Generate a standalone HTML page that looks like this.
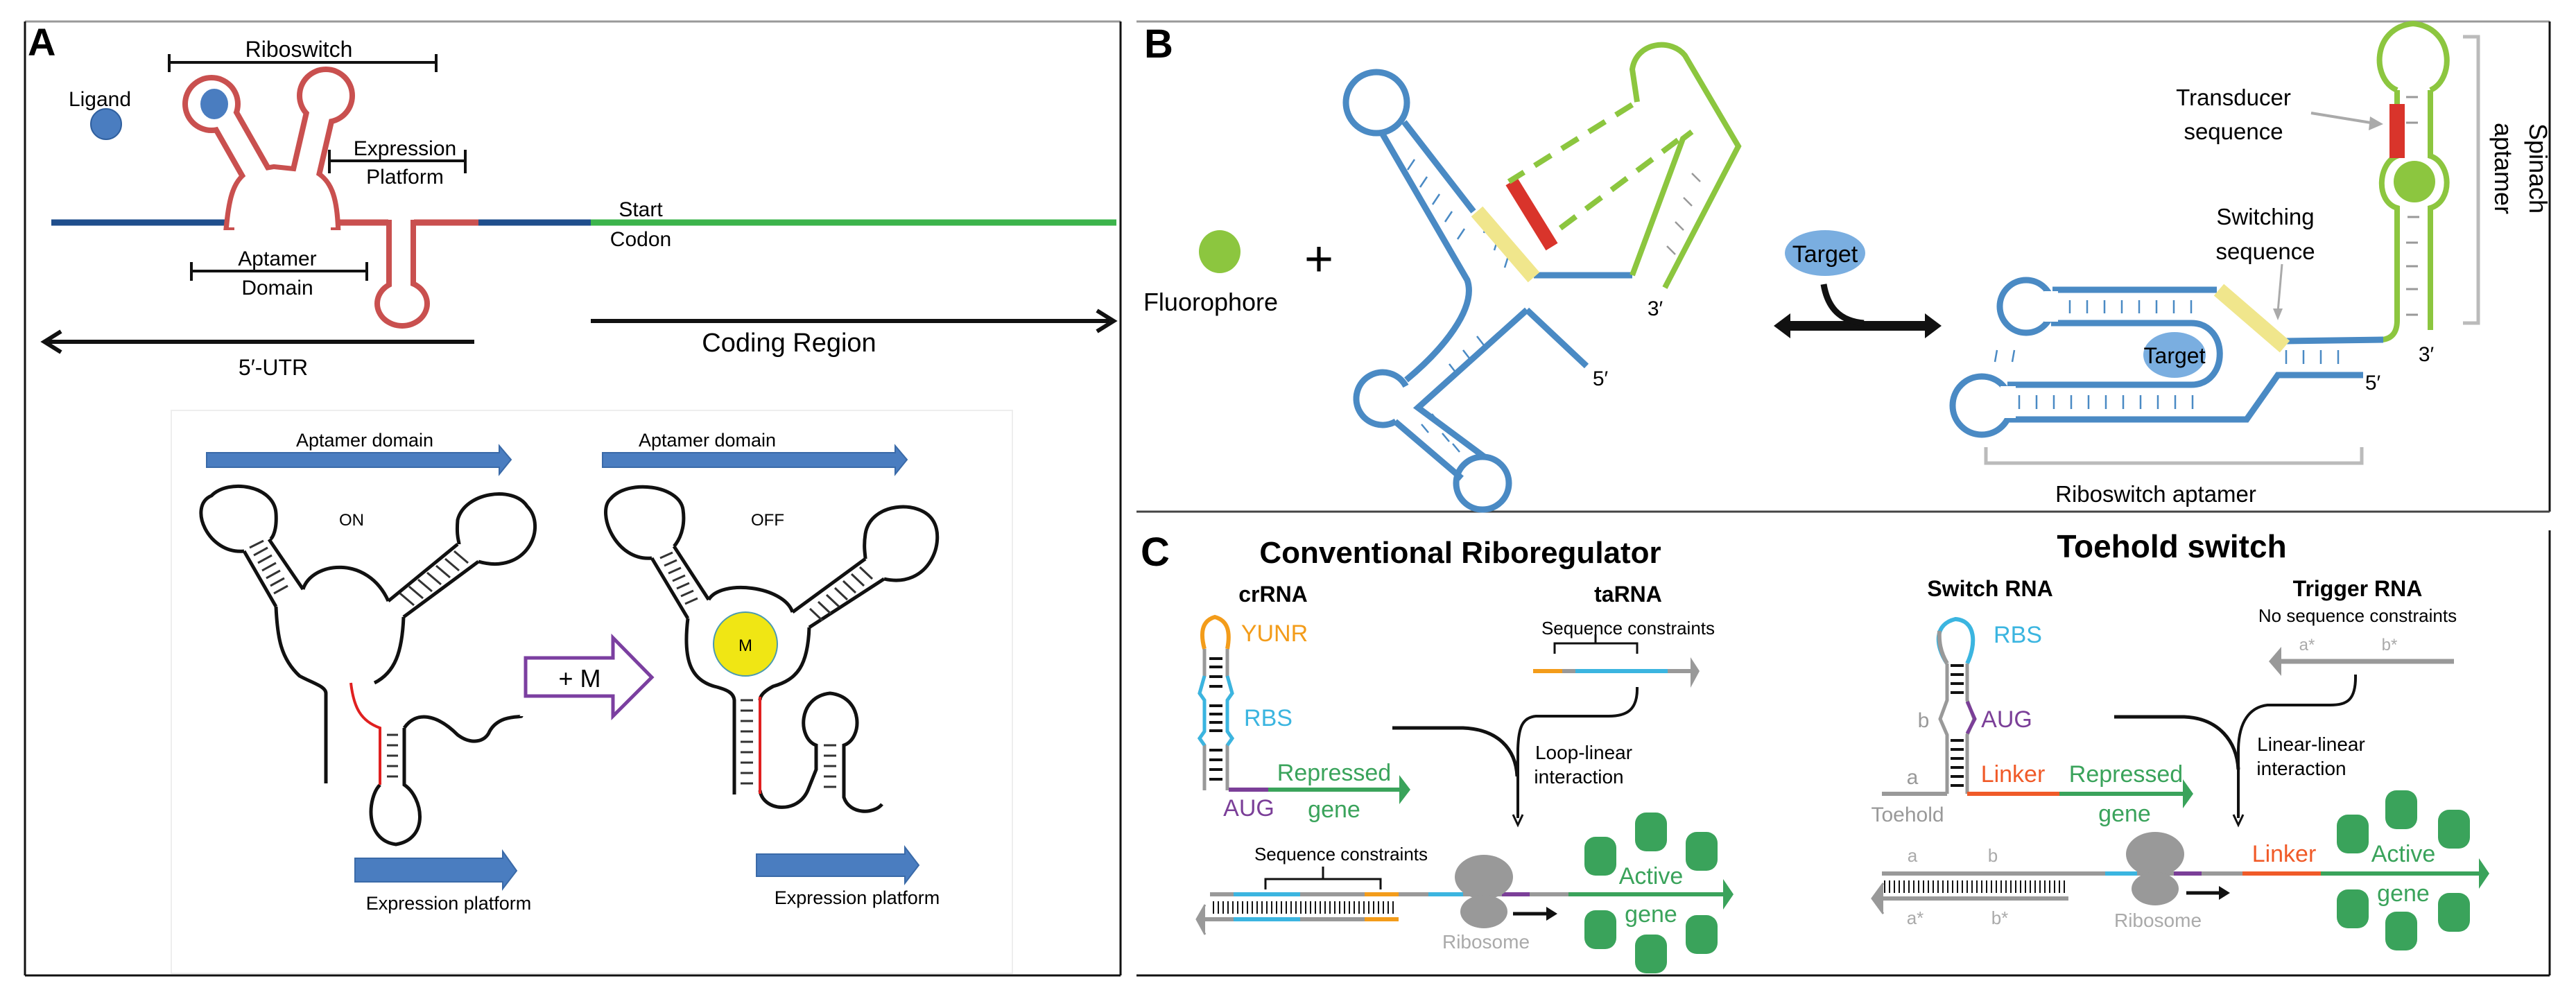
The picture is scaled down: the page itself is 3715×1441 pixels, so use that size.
<!DOCTYPE html>
<html><head><meta charset="utf-8"><style>
html,body{margin:0;padding:0;background:#fff;}
svg{display:block;}
.n{font-family:"Liberation Sans Narrow","Liberation Sans",sans-serif;}
</style></head><body>
<svg width="3715" height="1441" viewBox="0 0 3715 1441" xmlns="http://www.w3.org/2000/svg" class="n">
<!-- Panel borders -->
<line x1="36" y1="31" x2="1616" y2="31" stroke="#999" stroke-width="3"/>
<line x1="36" y1="31" x2="36" y2="1407" stroke="#111" stroke-width="3"/>
<line x1="1616" y1="31" x2="1616" y2="1407" stroke="#111" stroke-width="3"/>
<line x1="36" y1="1407" x2="1616" y2="1407" stroke="#111" stroke-width="3"/>
<line x1="1639" y1="31" x2="3677" y2="31" stroke="#999" stroke-width="3"/>
<line x1="3677" y1="31" x2="3677" y2="738" stroke="#111" stroke-width="3"/>
<line x1="3677" y1="765" x2="3677" y2="1407" stroke="#111" stroke-width="3"/>
<line x1="1639" y1="738" x2="3677" y2="738" stroke="#444" stroke-width="3"/>
<line x1="1639" y1="1407" x2="3677" y2="1407" stroke="#111" stroke-width="3"/>

<!-- ============ PANEL A ============ -->
<text x="40" y="80" font-family="Liberation Sans" font-weight="bold" font-size="56">A</text>
<text x="431" y="82" text-anchor="middle" font-size="32">Riboswitch</text>
<line x1="244" y1="90" x2="629" y2="90" stroke="#111" stroke-width="4"/>
<line x1="244" y1="78" x2="244" y2="104" stroke="#111" stroke-width="4"/>
<line x1="629" y1="78" x2="629" y2="104" stroke="#111" stroke-width="4"/>
<text x="144" y="153" text-anchor="middle" font-size="30">Ligand</text>
<ellipse cx="153" cy="179" rx="22" ry="22" fill="#4a7dc0" stroke="#2f5f9e" stroke-width="2"/>

<line x1="74" y1="321" x2="330" y2="321" stroke="#1f4e8c" stroke-width="9"/>
<line x1="690" y1="321" x2="852" y2="321" stroke="#1f4e8c" stroke-width="9"/>
<line x1="852" y1="321" x2="1610" y2="321" stroke="#3cb44b" stroke-width="9"/>
<line x1="484" y1="321" x2="560" y2="321" stroke="#c9504f" stroke-width="9"/>
<line x1="597" y1="321" x2="690" y2="321" stroke="#c9504f" stroke-width="9"/>
<g stroke="#c9504f" fill="#c9504f">
<line x1="372" y1="255" x2="318" y2="160" stroke-width="46"/>
<line x1="440" y1="255" x2="462" y2="160" stroke-width="46"/>
<circle cx="305" cy="150" r="42" stroke="none"/>
<circle cx="470" cy="138" r="42" stroke="none"/>
<path d="M330,325 C334,285 340,262 360,250 L395,244 L452,250 C475,262 482,285 484,325 Z" stroke-width="14"/>
<rect x="557" y="317" width="43" height="100" stroke="none"/>
<ellipse cx="580" cy="438" rx="40" ry="36" stroke="none"/>
</g>
<g fill="#fff" stroke="#fff">
<line x1="372" y1="255" x2="318" y2="160" stroke-width="30"/>
<line x1="440" y1="255" x2="462" y2="160" stroke-width="30"/>
<circle cx="305" cy="150" r="34" stroke="none"/>
<circle cx="470" cy="138" r="34" stroke="none"/>
<path d="M330,328 C334,285 340,262 360,250 L395,244 L452,250 C475,262 482,285 484,328 Z" stroke="none"/>
<rect x="338" y="316" width="139" height="20" stroke="none"/>
<rect x="565" y="312" width="27" height="110" stroke="none"/>
<ellipse cx="580" cy="438" rx="32" ry="28" stroke="none"/>
</g>
<ellipse cx="309" cy="150" rx="20" ry="22" fill="#4a7dc0"/>
<text x="584" y="224" text-anchor="middle" font-size="30">Expression</text>
<text x="584" y="265" text-anchor="middle" font-size="30">Platform</text>
<line x1="475" y1="232" x2="671" y2="232" stroke="#111" stroke-width="4"/>
<line x1="475" y1="216" x2="475" y2="250" stroke="#111" stroke-width="4"/>
<line x1="671" y1="216" x2="671" y2="250" stroke="#111" stroke-width="4"/>
<text x="400" y="383" text-anchor="middle" font-size="30">Aptamer</text>
<text x="400" y="425" text-anchor="middle" font-size="30">Domain</text>
<line x1="276" y1="391" x2="529" y2="391" stroke="#111" stroke-width="4"/>
<line x1="276" y1="378" x2="276" y2="405" stroke="#111" stroke-width="4"/>
<line x1="529" y1="378" x2="529" y2="405" stroke="#111" stroke-width="4"/>
<text x="924" y="312" text-anchor="middle" font-size="30">Start</text>
<text x="924" y="355" text-anchor="middle" font-size="30">Codon</text>
<line x1="70" y1="493" x2="684" y2="493" stroke="#111" stroke-width="6"/>
<path d="M88,478 L64,493 L88,508" fill="none" stroke="#111" stroke-width="6"/>
<text x="394" y="541" text-anchor="middle" font-size="32">5′-UTR</text>
<line x1="852" y1="463" x2="1600" y2="463" stroke="#111" stroke-width="6"/>
<path d="M1582,448 L1606,463 L1582,478" fill="none" stroke="#111" stroke-width="6"/>
<text x="1138" y="507" text-anchor="middle" font-size="38">Coding Region</text>

<rect x="247" y="592" width="1213" height="812" fill="none" stroke="#eeeeee" stroke-width="2"/>
<text x="526" y="644" text-anchor="middle" font-size="27">Aptamer domain</text>
<path d="M298,653 L720,653 L720,643 L737,663 L720,684 L720,674 L298,674 Z" fill="#4a7dc0" stroke="#3a6aa8" stroke-width="2"/>
<text x="1020" y="644" text-anchor="middle" font-size="27">Aptamer domain</text>
<path d="M869,653 L1291,653 L1291,643 L1308,663 L1291,684 L1291,674 L869,674 Z" fill="#4a7dc0" stroke="#3a6aa8" stroke-width="2"/>

<g fill="none" stroke="#111" stroke-width="5">
<path d="M352,795 C300,800 270,730 305,715 C330,690 395,700 398,740 C400,770 390,780 388,778"/>
<path d="M690,810 C760,830 790,760 760,730 C740,700 670,710 660,750 C658,775 662,780 662,785"/>
<line x1="352" y1="795" x2="398" y2="875"/>
<line x1="388" y1="778" x2="437" y2="850"/>
<path d="M437,850 C450,810 530,800 560,867"/>
<line x1="660" y1="785" x2="560" y2="867"/>
<line x1="690" y1="810" x2="582" y2="890"/>
<path d="M398,875 C400,920 405,950 432,975 C450,985 470,990 470,1000 L470,1130"/>
<path d="M582,890 C580,940 570,970 540,985"/>
<path d="M583,1050 L583,1132 C610,1150 620,1210 571,1218 C525,1212 530,1150 548,1132"/>
<path d="M583,1050 C600,1025 630,1030 660,1060 C680,1075 700,1070 706,1055 C720,1030 752,1035 752,1033"/>
</g>
<path d="M506,985 C510,1020 520,1040 548,1050 L548,1132" fill="none" stroke="#e02020" stroke-width="4"/>
<g stroke="#333" stroke-width="3">
<line x1="360" y1="790" x2="380" y2="780"/><line x1="366" y1="801" x2="386" y2="790"/><line x1="372" y1="812" x2="392" y2="801"/><line x1="378" y1="823" x2="398" y2="812"/><line x1="384" y1="834" x2="404" y2="823"/><line x1="390" y1="845" x2="410" y2="834"/><line x1="395" y1="856" x2="415" y2="845"/>
<line x1="655" y1="795" x2="675" y2="812"/><line x1="642" y1="806" x2="662" y2="823"/><line x1="629" y1="816" x2="649" y2="833"/><line x1="616" y1="826" x2="636" y2="843"/><line x1="603" y1="836" x2="623" y2="853"/><line x1="590" y1="846" x2="610" y2="863"/><line x1="577" y1="856" x2="597" y2="873"/>
<line x1="558" y1="1060" x2="574" y2="1060"/><line x1="558" y1="1075" x2="574" y2="1075"/><line x1="558" y1="1090" x2="574" y2="1090"/><line x1="558" y1="1105" x2="574" y2="1105"/><line x1="558" y1="1120" x2="574" y2="1120"/>
</g>
<text x="507" y="758" text-anchor="middle" font-size="24">ON</text>
<path d="M512,1238 L725,1238 L725,1228 L745,1256 L725,1282 L725,1272 L512,1272 Z" fill="#4a7dc0" stroke="#3a6aa8" stroke-width="2"/>
<text x="647" y="1312" text-anchor="middle" font-size="27">Expression platform</text>

<path d="M758,949 L884,949 L884,920 L940,977 L884,1033 L884,1004 L758,1004 Z" fill="#fff" stroke="#7b3fa0" stroke-width="5"/>
<text x="836" y="991" text-anchor="middle" font-size="36">+ M</text>

<g fill="none" stroke="#111" stroke-width="5">
<path d="M940,805 C888,810 860,740 880,720 C905,690 980,700 985,735 C990,770 972,788 972,788"/>
<path d="M1275,835 C1340,850 1365,780 1345,750 C1325,720 1255,725 1248,770 C1245,790 1248,800 1248,806"/>
<line x1="940" y1="805" x2="992" y2="892"/>
<line x1="972" y1="788" x2="1022" y2="865"/>
<path d="M1022,865 C1040,835 1130,845 1143,883"/>
<line x1="1248" y1="806" x2="1143" y2="883"/>
<line x1="1275" y1="835" x2="1167" y2="905"/>
<path d="M992,892 C985,950 995,980 1030,990 C1050,995 1058,1000 1059,1010 L1059,1146"/>
<path d="M1167,905 C1165,960 1150,980 1115,990 C1100,998 1096,1005 1096,1010"/>
<path d="M1096,1140 C1100,1170 1150,1175 1165,1140 L1177,1110 L1177,1075 C1150,1065 1150,1005 1197,1000 C1245,1005 1245,1065 1217,1075 L1217,1150 C1225,1175 1260,1175 1272,1160"/>
</g>
<line x1="1096" y1="1005" x2="1096" y2="1145" stroke="#e02020" stroke-width="4"/>
<g stroke="#333" stroke-width="3">
<line x1="952" y1="805" x2="970" y2="797"/><line x1="958" y1="816" x2="976" y2="808"/><line x1="964" y1="827" x2="982" y2="819"/><line x1="970" y1="838" x2="988" y2="830"/><line x1="976" y1="849" x2="994" y2="841"/><line x1="982" y1="860" x2="1000" y2="852"/><line x1="988" y1="871" x2="1006" y2="863"/>
<line x1="1240" y1="818" x2="1258" y2="835"/><line x1="1228" y1="828" x2="1246" y2="845"/><line x1="1216" y1="838" x2="1234" y2="855"/><line x1="1204" y1="848" x2="1222" y2="865"/><line x1="1192" y1="858" x2="1210" y2="875"/><line x1="1180" y1="868" x2="1198" y2="885"/><line x1="1168" y1="878" x2="1186" y2="895"/>
<line x1="1068" y1="1010" x2="1086" y2="1010"/><line x1="1068" y1="1025" x2="1086" y2="1025"/><line x1="1068" y1="1040" x2="1086" y2="1040"/><line x1="1068" y1="1055" x2="1086" y2="1055"/><line x1="1068" y1="1070" x2="1086" y2="1070"/><line x1="1068" y1="1085" x2="1086" y2="1085"/><line x1="1068" y1="1100" x2="1086" y2="1100"/><line x1="1068" y1="1115" x2="1086" y2="1115"/><line x1="1068" y1="1130" x2="1086" y2="1130"/>
<line x1="1188" y1="1075" x2="1206" y2="1075"/><line x1="1188" y1="1090" x2="1206" y2="1090"/><line x1="1188" y1="1105" x2="1206" y2="1105"/><line x1="1188" y1="1120" x2="1206" y2="1120"/><line x1="1188" y1="1135" x2="1206" y2="1135"/>
</g>
<ellipse cx="1075" cy="929" rx="46" ry="46" fill="#f0e614" stroke="#4a9ab0" stroke-width="2"/>
<text x="1075" y="939" text-anchor="middle" font-size="24">M</text>
<text x="1107" y="758" text-anchor="middle" font-size="24">OFF</text>
<path d="M1091,1232 L1305,1232 L1305,1222 L1325,1248 L1305,1274 L1305,1264 L1091,1264 Z" fill="#4a7dc0" stroke="#3a6aa8" stroke-width="2"/>
<text x="1236" y="1304" text-anchor="middle" font-size="27">Expression platform</text>

<!-- ============ PANEL B ============ -->
<text x="1650" y="83" font-family="Liberation Sans" font-weight="bold" font-size="58">B</text>
<ellipse cx="1759" cy="363" rx="30" ry="31" fill="#8cc63f"/>
<text x="1746" y="448" text-anchor="middle" font-size="36">Fluorophore</text>
<text x="1902" y="398" text-anchor="middle" font-family="Liberation Sans" font-size="72">+</text>

<g fill="none" stroke="#4a8ac4" stroke-width="9">
<circle cx="1985" cy="148" r="44"/>
<path d="M1993,192 L2116,404 C2130,445 2080,505 2028,548"/>
<path d="M2025,176 L2125,305"/>
<line x1="2212" y1="397" x2="2354" y2="397"/>
<path d="M2202,447 L2045,588 L2142,660"/>
<path d="M2202,447 L2288,528"/>
<path d="M2012,608 L2108,690"/>
<circle cx="2138" cy="697" r="38"/>
</g>
<circle cx="1994" cy="575" r="38" fill="none" stroke="#4a8ac4" stroke-width="9" stroke-dasharray="180 60" transform="rotate(60 1994 575)"/>
<g stroke="#4a8ac4" stroke-width="2.5">
<line x1="2040" y1="230" x2="2030" y2="245"/><line x1="2058" y1="255" x2="2048" y2="270"/><line x1="2076" y1="280" x2="2066" y2="295"/><line x1="2094" y1="305" x2="2084" y2="320"/><line x1="2112" y1="330" x2="2102" y2="345"/>
<line x1="2145" y1="320" x2="2140" y2="336"/><line x1="2160" y1="345" x2="2155" y2="361"/><line x1="2175" y1="370" x2="2170" y2="386"/>
<line x1="2050" y1="612" x2="2060" y2="624"/><line x1="2065" y1="597" x2="2075" y2="609"/><line x1="2080" y1="625" x2="2090" y2="637"/><line x1="2095" y1="640" x2="2105" y2="652"/>
<line x1="2130" y1="485" x2="2140" y2="498"/><line x1="2110" y1="505" x2="2120" y2="518"/><line x1="2090" y1="525" x2="2100" y2="538"/>
</g>
<line x1="2130" y1="305" x2="2212" y2="400" stroke="#f0e68c" stroke-width="22"/>
<line x1="2180" y1="262" x2="2238" y2="356" stroke="#d9342b" stroke-width="20"/>
<g fill="none" stroke="#8cc63f" stroke-width="8">
<path d="M2354,397 L2427,200 L2440,190"/>
<path d="M2401,415 L2507,211 L2430,80 C2410,55 2360,60 2354,100 L2361,147"/>
<line x1="2354" y1="151" x2="2176" y2="262" stroke-dasharray="28 18"/>
<line x1="2420" y1="202" x2="2249" y2="330" stroke-dasharray="28 18"/>
</g>
<g stroke="#999" stroke-width="2.5">
<line x1="2440" y1="250" x2="2452" y2="262"/><line x1="2428" y1="285" x2="2440" y2="297"/><line x1="2416" y1="320" x2="2428" y2="332"/><line x1="2404" y1="355" x2="2416" y2="367"/>
</g>
<text x="2387" y="455" text-anchor="middle" font-size="30">3′</text>
<text x="2308" y="556" text-anchor="middle" font-size="30">5′</text>

<line x1="2572" y1="470" x2="2785" y2="470" stroke="#111" stroke-width="14"/>
<path d="M2558,470 L2582,452 L2582,488 Z" fill="#111"/>
<path d="M2800,470 L2776,452 L2776,488 Z" fill="#111"/>
<path d="M2630,410 C2635,440 2650,463 2688,466" fill="none" stroke="#111" stroke-width="9"/>
<ellipse cx="2632" cy="365" rx="58" ry="33" fill="#7aaee0"/>
<text x="2632" y="378" text-anchor="middle" font-size="34">Target</text>

<g fill="none" stroke="#8cc63f" stroke-width="8">
<path d="M3457,130 C3420,115 3420,40 3480,34 C3540,40 3540,115 3505,130"/>
<path d="M3457,130 L3457,225 C3430,235 3425,290 3457,300 L3457,462 Q3457,488 3435,490"/>
<path d="M3505,130 L3505,225 C3535,235 3538,290 3505,300 L3505,476"/>
</g>
<circle cx="3482" cy="262" r="30" fill="#8cc63f"/>
<rect x="3446" y="150" width="22" height="78" fill="#d9342b"/>
<g stroke="#999" stroke-width="3">
<line x1="3470" y1="140" x2="3487" y2="140"/><line x1="3470" y1="177" x2="3487" y2="177"/><line x1="3472" y1="313" x2="3489" y2="313"/><line x1="3470" y1="350" x2="3487" y2="350"/><line x1="3470" y1="384" x2="3487" y2="384"/><line x1="3470" y1="417" x2="3487" y2="417"/><line x1="3470" y1="454" x2="3487" y2="454"/>
</g>
<g fill="none" stroke="#4a8ac4" stroke-width="9">
<line x1="3297" y1="492" x2="3437" y2="490"/>
<path d="M3197,418 L2960,418"/>
<circle cx="2922" cy="442" r="38"/>
<path d="M2958,466 L3160,466 C3215,466 3215,555 3160,555 L2895,555"/>
<circle cx="2858" cy="585" r="42"/>
<path d="M2895,605 L3240,605 L3285,541 L3408,541"/>
</g>
<rect x="2948" y="420" width="20" height="44" fill="#fff"/>
<rect x="2885" y="557" width="22" height="46" fill="#fff"/>
<line x1="3295" y1="500" x2="3200" y2="418" stroke="#f0e68c" stroke-width="22"/>
<g stroke="#4a8ac4" stroke-width="2.5">
<line x1="2985" y1="433" x2="2985" y2="452"/><line x1="3010" y1="433" x2="3010" y2="452"/><line x1="3035" y1="433" x2="3035" y2="452"/><line x1="3060" y1="433" x2="3060" y2="452"/><line x1="3085" y1="433" x2="3085" y2="452"/><line x1="3110" y1="433" x2="3110" y2="452"/><line x1="3135" y1="433" x2="3135" y2="452"/><line x1="3160" y1="433" x2="3160" y2="452"/>
<line x1="2912" y1="570" x2="2912" y2="590"/><line x1="2937" y1="570" x2="2937" y2="590"/><line x1="2962" y1="570" x2="2962" y2="590"/><line x1="2987" y1="570" x2="2987" y2="590"/><line x1="3012" y1="570" x2="3012" y2="590"/><line x1="3037" y1="570" x2="3037" y2="590"/><line x1="3062" y1="570" x2="3062" y2="590"/><line x1="3087" y1="570" x2="3087" y2="590"/><line x1="3112" y1="570" x2="3112" y2="590"/><line x1="3137" y1="570" x2="3137" y2="590"/><line x1="3162" y1="570" x2="3162" y2="590"/>
<line x1="3297" y1="505" x2="3297" y2="525"/><line x1="3322" y1="505" x2="3322" y2="525"/><line x1="3347" y1="505" x2="3347" y2="525"/><line x1="3372" y1="505" x2="3372" y2="525"/>
<line x1="2880" y1="505" x2="2877" y2="522"/><line x1="2905" y1="505" x2="2902" y2="522"/>
</g>
<ellipse cx="3136" cy="512" rx="45" ry="33" fill="#7aaee0"/>
<text x="3136" y="524" text-anchor="middle" font-size="32">Target</text>
<text x="3499" y="521" text-anchor="middle" font-size="30">3′</text>
<text x="3422" y="562" text-anchor="middle" font-size="30">5′</text>
<path d="M3552,53 L3574,53 L3574,466 L3552,466" fill="none" stroke="#bbb" stroke-width="5"/>
<text transform="translate(3648,243) rotate(90)" text-anchor="middle" font-family="Liberation Sans" font-size="36">Spinach</text>
<text transform="translate(3598,243) rotate(90)" text-anchor="middle" font-family="Liberation Sans" font-size="36">aptamer</text>
<text x="3221" y="152" text-anchor="middle" font-size="33">Transducer</text>
<text x="3221" y="201" text-anchor="middle" font-size="33">sequence</text>
<line x1="3333" y1="163" x2="3425" y2="178" stroke="#aaa" stroke-width="4"/>
<path d="M3418,168 L3437,179 L3416,188 Z" fill="#aaa"/>
<text x="3267" y="324" text-anchor="middle" font-size="33">Switching</text>
<text x="3267" y="374" text-anchor="middle" font-size="33">sequence</text>
<line x1="3291" y1="381" x2="3285" y2="450" stroke="#aaa" stroke-width="3"/>
<path d="M3278,445 L3285,462 L3292,445 Z" fill="#aaa"/>
<path d="M2864,645 L2864,668 L3406,668 L3406,645" fill="none" stroke="#bbb" stroke-width="5"/>
<text x="3109" y="724" text-anchor="middle" font-size="33">Riboswitch aptamer</text>

<!-- ============ PANEL C ============ -->
<text x="1645" y="816" font-family="Liberation Sans" font-weight="bold" font-size="58">C</text>
<text x="2106" y="812" text-anchor="middle" font-weight="bold" font-size="44">Conventional Riboregulator</text>
<text x="3132" y="804" text-anchor="middle" font-weight="bold" font-size="46">Toehold switch</text>
<text x="1836" y="868" text-anchor="middle" font-weight="bold" font-size="32">crRNA</text>
<text x="2348" y="868" text-anchor="middle" font-weight="bold" font-size="32">taRNA</text>
<text x="2870" y="860" text-anchor="middle" font-weight="bold" font-size="32">Switch RNA</text>
<text x="3400" y="860" text-anchor="middle" font-weight="bold" font-size="32">Trigger RNA</text>

<path d="M1737,936 C1730,910 1735,895 1752,890 C1770,895 1775,910 1770,936" fill="none" stroke="#f39c1a" stroke-width="6"/>
<g fill="none" stroke-width="5">
<path d="M1737,936 L1737,975 L1730,1000 L1737,1010 L1737,1055 L1730,1065 L1737,1075 L1737,1140" stroke="#999"/>
<path d="M1770,936 L1770,975 L1777,1000 L1770,1010 L1770,1055 L1777,1065 L1770,1075 L1770,1140" stroke="#999"/>
<path d="M1737,975 L1730,1000 L1737,1010 L1737,1055 L1730,1065 L1737,1075" stroke="#3bb5e0"/>
<path d="M1770,975 L1777,1000 L1770,1010 L1770,1055 L1777,1065 L1770,1075" stroke="#3bb5e0"/>
</g>
<g stroke="#111" stroke-width="4">
<line x1="1744" y1="950" x2="1763" y2="950"/><line x1="1744" y1="962" x2="1763" y2="962"/><line x1="1744" y1="976" x2="1763" y2="976"/><line x1="1744" y1="990" x2="1763" y2="990"/><line x1="1744" y1="1018" x2="1763" y2="1018"/><line x1="1744" y1="1030" x2="1763" y2="1030"/><line x1="1744" y1="1042" x2="1763" y2="1042"/><line x1="1744" y1="1054" x2="1763" y2="1054"/><line x1="1744" y1="1082" x2="1763" y2="1082"/><line x1="1744" y1="1096" x2="1763" y2="1096"/><line x1="1744" y1="1110" x2="1763" y2="1110"/><line x1="1744" y1="1124" x2="1763" y2="1124"/>
</g>
<line x1="1772" y1="1139" x2="1829" y2="1139" stroke="#7b3f98" stroke-width="6"/>
<line x1="1829" y1="1139" x2="2022" y2="1139" stroke="#3aa35b" stroke-width="6"/>
<path d="M2018,1118 L2034,1139 L2018,1160 Z" fill="#3aa35b"/>
<text x="1838" y="925" text-anchor="middle" fill="#f39c1a" font-size="34">YUNR</text>
<text x="1829" y="1047" text-anchor="middle" fill="#3bb5e0" font-size="34">RBS</text>
<text x="1924" y="1126" text-anchor="middle" fill="#3aa35b" font-size="34">Repressed</text>
<text x="1801" y="1177" text-anchor="middle" fill="#7b3f98" font-size="34">AUG</text>
<text x="1924" y="1179" text-anchor="middle" fill="#3aa35b" font-size="34">gene</text>
<text x="2348" y="915" text-anchor="middle" font-size="26">Sequence constraints</text>
<path d="M2242,943 L2242,928 L2361,928 L2361,943 M2301,928 L2301,915" fill="none" stroke="#111" stroke-width="3"/>
<line x1="2211" y1="968" x2="2272" y2="968" stroke="#999" stroke-width="6"/>
<line x1="2211" y1="968" x2="2253" y2="968" stroke="#f39c1a" stroke-width="6"/>
<line x1="2272" y1="968" x2="2405" y2="968" stroke="#3bb5e0" stroke-width="6"/>
<line x1="2405" y1="968" x2="2440" y2="968" stroke="#999" stroke-width="6"/>
<path d="M2438,948 L2451,968 L2438,992 Z" fill="#999"/>
<path d="M2361,991 C2362,1025 2345,1033 2320,1033 L2215,1033 C2195,1035 2190,1050 2189,1080 L2189,1180" fill="none" stroke="#111" stroke-width="4"/>
<path d="M2008,1050 L2110,1050 C2160,1052 2186,1080 2188,1120" fill="none" stroke="#111" stroke-width="5"/>
<path d="M2182,1175 L2189,1190 L2196,1175" fill="none" stroke="#111" stroke-width="3"/>
<text x="2284" y="1095" text-anchor="middle" font-size="28">Loop-linear</text>
<text x="2277" y="1130" text-anchor="middle" font-size="28">interaction</text>
<text x="1934" y="1241" text-anchor="middle" font-size="26">Sequence constraints</text>
<path d="M1825,1283 L1825,1268 L1991,1268 L1991,1283 M1908,1268 L1908,1250" fill="none" stroke="#111" stroke-width="3"/>
<line x1="1745" y1="1290" x2="2490" y2="1290" stroke="#999" stroke-width="6"/>
<line x1="1779" y1="1290" x2="1875" y2="1290" stroke="#3bb5e0" stroke-width="6"/>
<line x1="1968" y1="1290" x2="2017" y2="1290" stroke="#f39c1a" stroke-width="6"/>
<line x1="2060" y1="1290" x2="2110" y2="1290" stroke="#3bb5e0" stroke-width="6"/>
<line x1="2166" y1="1290" x2="2206" y2="1290" stroke="#7b3f98" stroke-width="6"/>
<line x1="2262" y1="1290" x2="2490" y2="1290" stroke="#3aa35b" stroke-width="6"/>
<path d="M2485,1268 L2500,1290 L2485,1312 Z" fill="#3aa35b"/>
<g stroke="#111" stroke-width="2"><path d="M1750,1300 V1318 M1757,1300 V1318 M1764,1300 V1318 M1771,1300 V1318 M1778,1300 V1318 M1785,1300 V1318 M1792,1300 V1318 M1799,1300 V1318 M1806,1300 V1318 M1813,1300 V1318 M1820,1300 V1318 M1827,1300 V1318 M1834,1300 V1318 M1841,1300 V1318 M1848,1300 V1318 M1855,1300 V1318 M1862,1300 V1318 M1869,1300 V1318 M1876,1300 V1318 M1883,1300 V1318 M1890,1300 V1318 M1897,1300 V1318 M1904,1300 V1318 M1911,1300 V1318 M1918,1300 V1318 M1925,1300 V1318 M1932,1300 V1318 M1939,1300 V1318 M1946,1300 V1318 M1953,1300 V1318 M1960,1300 V1318 M1967,1300 V1318 M1974,1300 V1318 M1981,1300 V1318 M1988,1300 V1318 M1995,1300 V1318 M2002,1300 V1318 M2009,1300 V1318"/></g>
<line x1="1735" y1="1326" x2="2017" y2="1326" stroke="#999" stroke-width="6"/>
<line x1="1779" y1="1326" x2="1875" y2="1326" stroke="#3bb5e0" stroke-width="6"/>
<line x1="1968" y1="1326" x2="2017" y2="1326" stroke="#f39c1a" stroke-width="6"/>
<path d="M1738,1305 L1726,1326 L1738,1348" fill="#999" stroke="#999" stroke-width="3"/>
<ellipse cx="2140" cy="1265" rx="42" ry="32" fill="#999"/>
<ellipse cx="2140" cy="1315" rx="34" ry="24" fill="#999"/>
<text x="2143" y="1368" text-anchor="middle" fill="#aaa" font-size="28">Ribosome</text>
<line x1="2182" y1="1318" x2="2236" y2="1318" stroke="#111" stroke-width="5"/>
<path d="M2230,1308 L2246,1318 L2230,1328 Z" fill="#111"/>
<g fill="#3aa35b">
<rect x="2285" y="1207" width="46" height="56" rx="16"/><rect x="2358" y="1172" width="46" height="56" rx="16"/><rect x="2431" y="1200" width="46" height="56" rx="16"/>
<rect x="2285" y="1313" width="46" height="56" rx="16"/><rect x="2358" y="1348" width="46" height="56" rx="16"/><rect x="2431" y="1320" width="46" height="56" rx="16"/>
</g>
<text x="2381" y="1275" text-anchor="middle" fill="#3aa35b" font-size="34">Active</text>
<text x="2381" y="1330" text-anchor="middle" fill="#3aa35b" font-size="34">gene</text>

<path d="M2808,957 C2790,930 2790,900 2820,893 C2850,895 2850,930 2837,957" fill="none" stroke="#3bb5e0" stroke-width="6"/>
<path d="M2808,957 C2798,940 2796,925 2797,910" fill="none" stroke="#999" stroke-width="6"/>
<path d="M2808,957 L2808,1010 L2798,1037 L2808,1060 L2808,1145" fill="none" stroke="#999" stroke-width="5"/>
<path d="M2837,957 L2837,1010 L2847,1037 L2837,1060 L2837,1145" fill="none" stroke="#999" stroke-width="5"/>
<path d="M2837,1012 L2848,1037 L2837,1058" fill="none" stroke="#7b3f98" stroke-width="5"/>
<g stroke="#111" stroke-width="4">
<line x1="2813" y1="960" x2="2832" y2="960"/><line x1="2813" y1="973" x2="2832" y2="973"/><line x1="2813" y1="986" x2="2832" y2="986"/><line x1="2813" y1="999" x2="2832" y2="999"/><line x1="2813" y1="1068" x2="2832" y2="1068"/><line x1="2813" y1="1081" x2="2832" y2="1081"/><line x1="2813" y1="1094" x2="2832" y2="1094"/><line x1="2813" y1="1107" x2="2832" y2="1107"/><line x1="2813" y1="1120" x2="2832" y2="1120"/><line x1="2813" y1="1133" x2="2832" y2="1133"/>
</g>
<line x1="2714" y1="1145" x2="2808" y2="1145" stroke="#999" stroke-width="6"/>
<line x1="2837" y1="1145" x2="2970" y2="1145" stroke="#f05a28" stroke-width="6"/>
<line x1="2970" y1="1145" x2="3152" y2="1145" stroke="#3aa35b" stroke-width="6"/>
<path d="M3148,1124 L3163,1145 L3148,1166 Z" fill="#3aa35b"/>
<text x="2910" y="927" text-anchor="middle" fill="#3bb5e0" font-size="34">RBS</text>
<text x="2894" y="1049" text-anchor="middle" fill="#7b3f98" font-size="34">AUG</text>
<text x="2774" y="1049" text-anchor="middle" fill="#999" font-size="30">b</text>
<text x="2758" y="1131" text-anchor="middle" fill="#999" font-size="30">a</text>
<text x="2751" y="1185" text-anchor="middle" fill="#999" font-size="30">Toehold</text>
<text x="2903" y="1128" text-anchor="middle" fill="#f05a28" font-size="34">Linker</text>
<text x="3066" y="1128" text-anchor="middle" fill="#3aa35b" font-size="34">Repressed</text>
<text x="3064" y="1185" text-anchor="middle" fill="#3aa35b" font-size="34">gene</text>
<text x="3400" y="897" text-anchor="middle" font-size="26">No sequence constraints</text>
<line x1="3285" y1="954" x2="3539" y2="954" stroke="#999" stroke-width="7"/>
<path d="M3290,933 L3272,954 L3290,975 Z" fill="#999"/>
<text x="3327" y="938" text-anchor="middle" fill="#aaa" font-size="24">a*</text>
<text x="3446" y="938" text-anchor="middle" fill="#aaa" font-size="24">b*</text>
<path d="M3397,973 C3398,1010 3385,1017 3360,1017 L3270,1017 C3245,1020 3229,1040 3228,1080 L3228,1180" fill="none" stroke="#111" stroke-width="4"/>
<path d="M3049,1034 L3150,1034 C3200,1036 3226,1070 3228,1110" fill="none" stroke="#111" stroke-width="5"/>
<path d="M3221,1175 L3228,1190 L3235,1175" fill="none" stroke="#111" stroke-width="3"/>
<text x="3333" y="1083" text-anchor="middle" font-size="28">Linear-linear</text>
<text x="3319" y="1118" text-anchor="middle" font-size="28">interaction</text>
<line x1="2714" y1="1260" x2="3578" y2="1260" stroke="#999" stroke-width="6"/>
<line x1="3036" y1="1260" x2="3082" y2="1260" stroke="#3bb5e0" stroke-width="6"/>
<line x1="3135" y1="1260" x2="3175" y2="1260" stroke="#7b3f98" stroke-width="6"/>
<line x1="3234" y1="1260" x2="3347" y2="1260" stroke="#f05a28" stroke-width="6"/>
<line x1="3347" y1="1260" x2="3578" y2="1260" stroke="#3aa35b" stroke-width="6"/>
<path d="M3575,1238 L3590,1260 L3575,1282 Z" fill="#3aa35b"/>
<g stroke="#111" stroke-width="2"><path d="M2718,1270 V1288 M2725,1270 V1288 M2732,1270 V1288 M2739,1270 V1288 M2746,1270 V1288 M2753,1270 V1288 M2760,1270 V1288 M2767,1270 V1288 M2774,1270 V1288 M2781,1270 V1288 M2788,1270 V1288 M2795,1270 V1288 M2802,1270 V1288 M2809,1270 V1288 M2816,1270 V1288 M2823,1270 V1288 M2830,1270 V1288 M2837,1270 V1288 M2844,1270 V1288 M2851,1270 V1288 M2858,1270 V1288 M2865,1270 V1288 M2872,1270 V1288 M2879,1270 V1288 M2886,1270 V1288 M2893,1270 V1288 M2900,1270 V1288 M2907,1270 V1288 M2914,1270 V1288 M2921,1270 V1288 M2928,1270 V1288 M2935,1270 V1288 M2942,1270 V1288 M2949,1270 V1288 M2956,1270 V1288 M2963,1270 V1288 M2970,1270 V1288 M2977,1270 V1288"/></g>
<line x1="2712" y1="1296" x2="2983" y2="1296" stroke="#999" stroke-width="6"/>
<path d="M2716,1274 L2700,1296 L2716,1318" fill="#999" stroke="#999" stroke-width="3"/>
<text x="2758" y="1243" text-anchor="middle" fill="#aaa" font-size="26">a</text>
<text x="2874" y="1243" text-anchor="middle" fill="#aaa" font-size="26">b</text>
<text x="2762" y="1333" text-anchor="middle" fill="#aaa" font-size="26">a*</text>
<text x="2884" y="1333" text-anchor="middle" fill="#aaa" font-size="26">b*</text>
<ellipse cx="3108" cy="1232" rx="42" ry="32" fill="#999"/>
<ellipse cx="3108" cy="1282" rx="34" ry="24" fill="#999"/>
<text x="3112" y="1337" text-anchor="middle" fill="#aaa" font-size="28">Ribosome</text>
<line x1="3153" y1="1288" x2="3205" y2="1288" stroke="#111" stroke-width="5"/>
<path d="M3200,1278 L3216,1288 L3200,1298 Z" fill="#111"/>
<text x="3294" y="1243" text-anchor="middle" fill="#f05a28" font-size="34">Linker</text>
<g fill="#3aa35b">
<rect x="3370" y="1175" width="46" height="56" rx="16"/><rect x="3440" y="1140" width="46" height="56" rx="16"/><rect x="3516" y="1168" width="46" height="56" rx="16"/>
<rect x="3370" y="1283" width="46" height="56" rx="16"/><rect x="3440" y="1315" width="46" height="56" rx="16"/><rect x="3516" y="1288" width="46" height="56" rx="16"/>
</g>
<text x="3466" y="1243" text-anchor="middle" fill="#3aa35b" font-size="34">Active</text>
<text x="3466" y="1300" text-anchor="middle" fill="#3aa35b" font-size="34">gene</text>
</svg>
</body></html>
